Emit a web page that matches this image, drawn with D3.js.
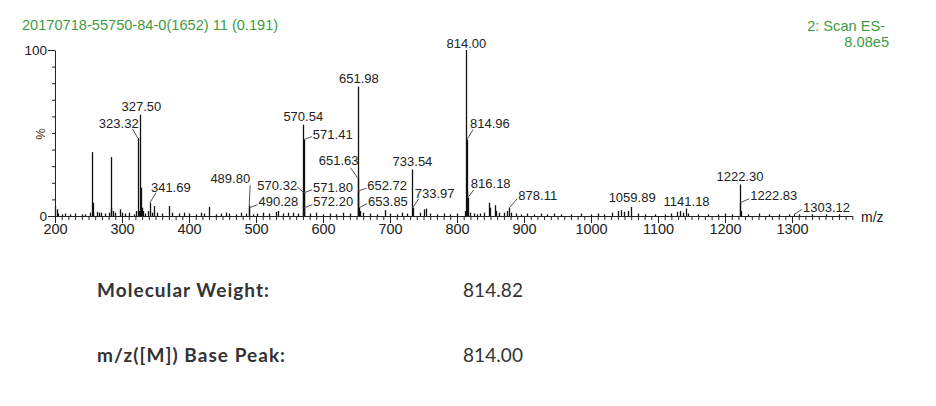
<!DOCTYPE html>
<html>
<head>
<meta charset="utf-8">
<script src="https://cdn.jsdelivr.net/npm/d3@7"></script>
<style>
  body { margin: 0; background: #fff; }
  svg text { font-family: "Liberation Sans", Arial, sans-serif; }
</style>
</head>
<body>
<svg id="chart" width="936" height="406"></svg>
<script>
// spectrum header
const runTitle = "20170718-55750-84-0(1652) 11 (0.191)";
const scanTitle = "2: Scan ES-";
const scanMax = "8.08e5";

// labelled peaks (m/z, relative intensity %)
const labelMz = [323.32, 327.50, 341.69, 489.80, 490.28, 570.32, 570.54, 571.41, 571.80, 572.20,
  651.63, 651.98, 652.72, 653.85, 733.54, 733.97, 814.00, 814.96, 816.18, 878.11,
  1059.89, 1141.18, 1222.30, 1222.83, 1303.12];
const labelInt = [47, 61, 8, 6.5, 5, 14.5, 55, 46, 14, 5,
  23, 78, 15, 5, 28, 5, 100, 46, 11, 5,
  5.5, 4.5, 19, 8, 1];

// other (unlabelled) peaks
const otherMz = [200.5, 202.5, 205, 210, 215, 222, 230, 240, 245, 252, 255.2, 256.2, 257, 262, 265, 268, 275, 281,
  283.3, 284.3, 286, 290, 297.5, 300, 305, 310, 318, 321, 325, 328.5, 329.5, 331, 335, 339, 345, 348.5, 352, 360,
  369.5, 375, 385, 392, 400, 410, 418, 423, 430, 440, 448, 455, 460, 470, 478, 485, 495, 502, 510, 520, 530, 533,
  540, 548, 555, 562, 580, 590, 600, 610, 620, 630, 640, 655, 660, 670, 680, 692, 700, 710, 718, 725, 745, 750.5,
  754, 760, 770, 780, 790, 800, 812.5, 815.4, 820, 825, 830, 835, 840, 848, 850, 856, 858, 862, 870, 875, 880, 888,
  895, 905, 915, 925, 935, 945, 955, 970, 985, 1000, 1010, 1020, 1032, 1040, 1045, 1050, 1055, 1070, 1080, 1095,
  1110, 1120, 1128, 1133, 1138, 1145, 1160, 1175, 1190, 1200, 1210, 1223.5, 1235, 1250, 1265, 1280, 1295, 1310,
  1330, 1350, 1370];
const otherInt = [6, 4, 1.5, 1, 1.5, 1, 1.5, 1, 1, 2, 38.5, 8, 2, 2.5, 2, 2, 1.5, 2,
  35.5, 5, 3, 2, 4, 2, 1.5, 2, 1, 3, 3, 17, 5, 3, 1.5, 3, 2, 6, 2, 1.5,
  6, 2, 1.5, 2, 1.5, 1, 2, 1.5, 5.5, 1, 1.5, 2, 1.5, 1, 2, 1.5, 1, 1.5, 2, 1.5, 2.5, 3,
  1.5, 2, 2, 1.5, 1.5, 2, 1, 1.5, 1, 2, 1.5, 3, 2, 1.5, 1, 3.5, 1.5, 1, 2, 1.5, 2, 4,
  4.5, 1.5, 1, 1.5, 1, 1.5, 3, 15, 2, 1.5, 1, 1.5, 2, 8, 5, 6.5, 3, 2, 2, 3, 2, 1.5,
  1, 1.5, 1, 1.5, 1, 1.5, 1, 1, 1.5, 1, 1.5, 1, 2, 3, 3.5, 2.5, 3, 1.5, 1, 1,
  1, 1.5, 2.5, 3, 2, 1.5, 1, 1, 1, 1.5, 1, 3, 1, 1.5, 1, 1, 1, 1,
  1, 1, 1];

const xTicks = [200, 300, 400, 500, 600, 700, 800, 900, 1000, 1100, 1200, 1300];
const yTicks = [0, 100];

const infoLabels = ["Molecular Weight:", "m/z([M]) Base Peak:"];
const infoValues = ["814.82", "814.00"];

// label placement relative to peak top: [dx, dy, anchor, leaderX, leaderY]
const labelLayout = {
  "323.32": [1, -15, "end", -5, -9],
  "327.50": [1, -8, "middle"],
  "341.69": [1, -15, "start", 6, -10],
  "489.80": [1, -27, "end", 1, -20],
  "490.28": [9, -6, "start", 8, -3],
  "570.32": [-6, -6, "end", -6, -5],
  "570.54": [0, -8, "middle"],
  "571.41": [9, -5, "start", 8, -3],
  "571.80": [9, -5, "start", 8, -3],
  "572.20": [9, -6, "start", 8, -3],
  "651.63": [1, -17, "end", -7, -10],
  "651.98": [1, -8, "middle"],
  "652.72": [9, -6, "start", 8, -3],
  "653.85": [9, -6, "start", 8, -4],
  "733.54": [0, -8, "middle"],
  "733.97": [2, -14, "start", 6, -9],
  "814.00": [0, -7, "middle"],
  "814.96": [3, -16, "start", 6, -10],
  "816.18": [3, -14, "start", 6, -8],
  "878.11": [9, -12, "start", 8, -9],
  "1059.89": [1, -9, "middle"],
  "1141.18": [1, -7, "middle"],
  "1222.30": [0, -8, "middle"],
  "1222.83": [10, -7, "start", 9, -4],
  "1303.12": [9, -7, "start", 8, -5]
};

const svg = d3.select("#chart");
const x = d3.scaleLinear().domain([200, 1390]).range([55, 852.3]);
const y = d3.scaleLinear().domain([0, 100]).range([216, 50]);

// header
svg.append("text").attr("x", 22).attr("y", 30)
  .attr("font-size", 14.6).attr("fill", "#3f9b3f").text(runTitle);
svg.append("text").attr("x", 885).attr("y", 31).attr("text-anchor", "end")
  .attr("font-size", 14.6).attr("fill", "#3f9b3f").text(scanTitle);
svg.append("text").attr("x", 889).attr("y", 47).attr("text-anchor", "end")
  .attr("font-size", 14.6).attr("fill", "#3f9b3f").text(scanMax);

// peaks
const peaks = otherMz.map((m, i) => ({ mz: m, v: otherInt[i] }))
  .concat(labelMz.map((m, i) => ({ mz: m, v: labelInt[i] })));

svg.append("g").selectAll("line").data(peaks).join("line")
  .attr("x1", d => Math.round(x(d.mz)) + 0.5)
  .attr("x2", d => Math.round(x(d.mz)) + 0.5)
  .attr("y1", y(0))
  .attr("y2", d => y(d.v))
  .attr("stroke", "#111")
  .attr("stroke-width", 1.3);

// x axis: minor ticks, then labelled ticks
const minorX = d3.range(200, 1391, 10);
svg.append("g").attr("transform", "translate(0," + y(0) + ")")
  .call(d3.axisBottom(x).tickValues(minorX).tickSize(4).tickFormat(""))
  .call(g => g.select(".domain").remove());
const gx = svg.append("g").attr("transform", "translate(0," + y(0) + ")")
  .call(d3.axisBottom(x).tickValues(xTicks).tickSize(7).tickSizeOuter(0).tickPadding(1).tickFormat(d3.format("d")));
gx.selectAll("text").attr("font-size", 14.5).attr("fill", "#222")
  .style("font-family", "Liberation Sans, Arial, sans-serif");

// y axis
svg.append("g").attr("transform", "translate(55,0)")
  .call(d3.axisLeft(y).tickValues(d3.range(0, 101, 10)).tickSize(3).tickFormat(""))
  .call(g => g.select(".domain").remove());
const gy = svg.append("g").attr("transform", "translate(55,0)")
  .call(d3.axisLeft(y).tickValues(yTicks).tickSize(7).tickSizeOuter(0).tickPadding(1));
gy.selectAll("text").attr("font-size", 13.5).attr("fill", "#222")
  .style("font-family", "Liberation Sans, Arial, sans-serif");
svg.selectAll(".domain, .tick line").attr("stroke", "#222");

svg.append("text").attr("transform", "translate(45,134) rotate(-90)")
  .attr("text-anchor", "middle").attr("font-size", 13).attr("fill", "#553322").text("%");
svg.append("text").attr("x", 861).attr("y", 222)
  .attr("font-size", 14).attr("fill", "#222").text("m/z");

// peak labels
const labelled = labelMz.map((m, i) => ({ mz: m, v: labelInt[i], t: m.toFixed(2) }));
const lg = svg.append("g");
labelled.forEach(d => {
  const px = x(d.mz), py = y(d.v);
  const L = labelLayout[d.t];
  if (L.length > 3) {
    lg.append("line").attr("x1", px).attr("y1", py)
      .attr("x2", px + L[3]).attr("y2", py + L[4])
      .attr("stroke", "#555").attr("stroke-width", 1);
  }
  lg.append("text").attr("x", px + L[0]).attr("y", py + L[1])
    .attr("dy", "0.35em").attr("text-anchor", L[2])
    .attr("font-size", 13).attr("fill", "#222").text(d.t);
});

// info lines below the spectrum
const infoWidths = [172, 188];
infoLabels.forEach((t, i) => {
  svg.append("text").attr("x", 97).attr("y", 297 + i * 65)
    .style("font-family", "Lato, 'Open Sans', sans-serif")
    .attr("font-size", 19).attr("font-weight", "bold").attr("fill", "#333")
    .attr("textLength", infoWidths[i]).attr("lengthAdjust", "spacing").text(t);
  svg.append("text").attr("x", 463).attr("y", 297 + i * 65)
    .style("font-family", "Lato, 'Open Sans', sans-serif")
    .attr("font-size", 19).attr("fill", "#333")
    .attr("textLength", 60).attr("lengthAdjust", "spacing").text(infoValues[i]);
});
</script>
</body>
</html>
